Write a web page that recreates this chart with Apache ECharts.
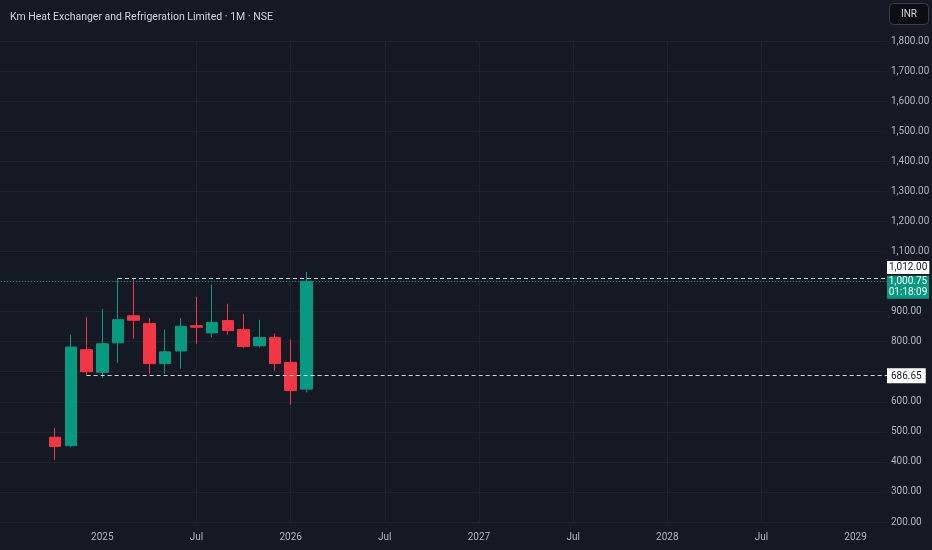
<!DOCTYPE html>
<html>
<head>
<meta charset="utf-8">
<script src="https://cdn.jsdelivr.net/npm/echarts@6/dist/echarts.min.js"></script>
<style>
html,body{margin:0;padding:0;background:#151924;}
#c{width:932px;height:550px;}
</style>
</head>
<body>
<div id="c"></div>
<script>
// ---- data (monthly candles, INR) ----
const months = ['2024-10','2024-11','2024-12','2025-01','2025-02','2025-03','2025-04','2025-05','2025-06','2025-07','2025-08','2025-09','2025-10','2025-11','2025-12','2026-01','2026-02'];
const opens  = [482, 454, 773, 698, 796, 886, 860, 727, 769, 853, 829, 870, 840, 786, 814, 731, 642];
const closes = [451, 782, 700, 793, 873, 871, 727, 766, 851, 848, 864, 837, 784, 814, 727, 637, 1000.75];
const lows   = [407, 449, 687, 679, 729, 810, 693, 693, 710, 793, 814, 823, 779, 781, 703, 590, 631];
const highs  = [513, 823, 881, 909, 1012, 1010, 878, 840, 878, 949, 990, 926, 892, 873, 827, 807, 1032];

const resistance = {value: 1012.00, from: '2025-02', label: '1,012.00'};
const support    = {value: 686.65, from: '2024-12', label: '686.65'};
const lastPrice  = {value: 1000.75, label: '1,000.75', timer: '01:18:09'};

const yMin = 200, yMax = 1800, yStep = 100;
const hiddenYLabels = [700, 1000]; // covered by the price tags
const baseYear = 2024;
const xMin = 0, xMax = 62, xStep = 6; // month index, 0 = Jan 2024
const xTickValues = [12, 18, 24, 30, 36, 42, 48, 54, 60]; // 2025 ... 2029
const xTickLabels = ['2025', 'Jul', '2026', 'Jul', '2027', 'Jul', '2028', 'Jul', '2029'];

const titleText = 'Km Heat Exchanger and Refrigeration Limited · 1M · NSE';
const currency = 'INR';

// ---- helpers ----
const monthIndex = m => (parseInt(m.slice(0,4),10) - baseYear) * 12 + parseInt(m.slice(5),10) - 1;
const candles = months.map((m,i) => [monthIndex(m), opens[i], closes[i], lows[i], highs[i]]);
const fmt = v => v.toLocaleString('en-US', {minimumFractionDigits: 2, maximumFractionDigits: 2});

const FONT = 'Roboto, "Liberation Sans", sans-serif';
const UP = '#089981', DOWN = '#f23645';
const GRID = '#1f2330';
const TXT = '#b2b5be';

const dashed = {color: '#d1d4dc', width: 1.2, type: [4, 3]};

const chart = echarts.init(document.getElementById('c'), null, {renderer: 'canvas'});
chart.setOption({
  backgroundColor: '#151924',
  animation: false,
  title: [
    {text: titleText, left: 5, top: 7, textStyle: {color: '#d1d4dc', fontSize: 10.5, fontWeight: 'normal', fontFamily: FONT}},
    {text: currency, right: 3, top: 3, backgroundColor: '#0b0d12', borderColor: '#3b3f4b', borderWidth: 1, borderRadius: 4,
     padding: [6, 12, 6, 12], textStyle: {color: '#d1d4dc', fontSize: 10, fontWeight: 'normal', fontFamily: FONT}}
  ],
  grid: {left: -86, right: 45, top: 41, bottom: 28, containLabel: false, outerBoundsMode: 'none'},
  xAxis: {
    type: 'value', min: xMin, max: xMax, interval: xStep,
    axisLine: {show: false},
    axisTick: {show: false, customValues: xTickValues},
    splitLine: {show: true, showMinLine: false, showMaxLine: false, lineStyle: {color: GRID, width: 1}},
    axisLabel: {
      color: TXT, fontSize: 10, fontFamily: FONT, margin: 10,
      customValues: xTickValues,
      formatter: v => {
        const i = xTickValues.indexOf(v);
        return i < 0 ? '' : xTickLabels[i];
      }
    }
  },
  yAxis: {
    type: 'value', position: 'right', min: yMin, max: yMax, interval: yStep,
    axisLine: {show: false}, axisTick: {show: false},
    splitLine: {show: true, lineStyle: {color: GRID, width: 1}},
    axisLabel: {color: TXT, fontSize: 10, fontFamily: FONT, margin: 4,
                formatter: v => hiddenYLabels.indexOf(v) >= 0 ? '' : fmt(v)}
  },
  series: [{
    type: 'candlestick',
    data: candles,
    barWidth: 12,
    itemStyle: {color: UP, color0: DOWN, borderColor: UP, borderColor0: DOWN, borderWidth: 1},
    markLine: {
      silent: true, symbol: ['none', 'none'], animation: false,
      data: [
        [{coord: [monthIndex(resistance.from), resistance.value], lineStyle: dashed,
          label: {show: true, position: 'end', distance: 0, verticalAlign: 'bottom',
                  formatter: '{a|' + resistance.label + '}\n{s| }',
                  rich: {s: {height: 4, fontSize: 1},
                         a: {backgroundColor: '#ffffff', color: '#131722', fontSize: 10, fontFamily: FONT, padding: [2, 2, 1, 2]}}}},
         {coord: [xMax, resistance.value]}],
        [{coord: [monthIndex(support.from), support.value], lineStyle: dashed,
          label: {show: true, position: 'end', distance: 0, verticalAlign: 'middle',
                  formatter: '{a|' + support.label + '}',
                  rich: {a: {backgroundColor: '#ffffff', color: '#131722', fontSize: 10, fontFamily: FONT, padding: [3, 4, 2, 4]}}}},
         {coord: [xMax, support.value]}],
        [{coord: [xMin, lastPrice.value], lineStyle: {color: UP, width: 1, type: [1, 2]},
          label: {show: true, position: 'end', distance: 0, verticalAlign: 'middle',
                  formatter: '{s| }\n{a|' + lastPrice.label + '}\n{a|' + lastPrice.timer + '}',
                  rich: {s: {height: 12, fontSize: 1},
                         a: {backgroundColor: UP, color: '#ffffff', fontSize: 10, fontFamily: FONT, width: 38, align: 'center', padding: [1, 2, 1, 2], lineHeight: 11}}}},
         {coord: [xMax, lastPrice.value]}]
      ]
    }
  }]
});
</script>
</body>
</html>
